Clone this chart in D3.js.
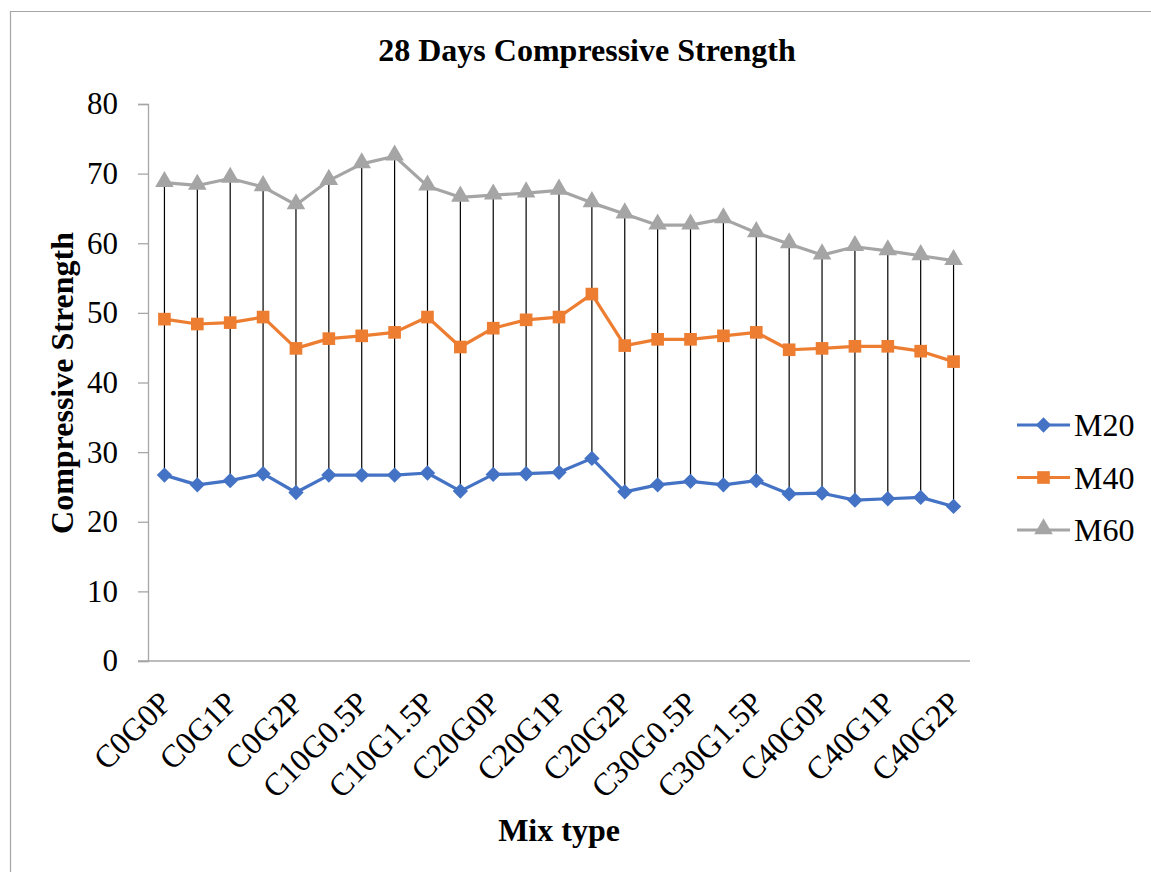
<!DOCTYPE html>
<html>
<head>
<meta charset="utf-8">
<script src="https://cdn.jsdelivr.net/npm/d3@7"></script>
<style>
  html, body { margin: 0; padding: 0; background: #fff; }
  svg { display: block; font-family: "Liberation Serif", "Times New Roman", serif; }
</style>
</head>
<body>
<svg id="chart" width="1151" height="872"></svg>
<script>
// Mix designs: cement replacement (C), glass (G) and polymer (P) levels
const categories = [
  "C0G0P", "C0G0.5P", "C0G1P", "C0G1.5P", "C0G2P",
  "C10G0P", "C10G0.5P", "C10G1P", "C10G1.5P", "C10G2P",
  "C20G0P", "C20G0.5P", "C20G1P", "C20G1.5P", "C20G2P",
  "C30G0P", "C30G0.5P", "C30G1P", "C30G1.5P", "C30G2P",
  "C40G0P", "C40G0.5P", "C40G1P", "C40G1.5P", "C40G2P"
];

// 28-day compressive strength per grade
const m20 = [26.7, 25.3, 25.9, 26.9, 24.2, 26.7, 26.7, 26.7, 27.0, 24.4, 26.8, 26.9, 27.1,
             29.1, 24.3, 25.3, 25.8, 25.3, 25.9, 24.0, 24.1, 23.1, 23.3, 23.5, 22.2];
const m40 = [49.1, 48.4, 48.6, 49.4, 44.9, 46.3, 46.7, 47.2, 49.4, 45.1, 47.8, 49.0, 49.4,
             52.7, 45.3, 46.2, 46.2, 46.7, 47.2, 44.7, 44.9, 45.2, 45.2, 44.5, 43.0];
const m60 = [68.7, 68.3, 69.3, 68.1, 65.5, 69.0, 71.4, 72.5, 68.2, 66.6, 66.9, 67.2, 67.6,
             65.8, 64.2, 62.6, 62.6, 63.5, 61.5, 59.9, 58.3, 59.5, 58.9, 58.2, 57.5];

const seriesNames = ["M20", "M40", "M60"];
const seriesColors = ["#4472C4", "#ED7D31", "#A5A5A5"];
const yTicks = [0, 10, 20, 30, 40, 50, 60, 70, 80];

const series = [m20, m40, m60].map((values, i) => ({
  name: seriesNames[i], color: seriesColors[i], values
}));

const svg = d3.select("#chart");
const plot = { left: 148, right: 970, top: 104, bottom: 661 };
const FONT = "Liberation Serif, serif";

// Chart frame
svg.append("path")
  .attr("d", "M10.5,872 V11.5 H1151")
  .attr("fill", "none").attr("stroke", "#A6A6A6").attr("stroke-width", 1.2);

const x = d3.scaleBand().domain(categories).range([plot.left, plot.right]);
const y = d3.scaleLinear().domain([0, 80]).range([plot.bottom, plot.top]);
const cx = c => x(c) + x.bandwidth() / 2;

// Y axis
const yAxis = svg.append("g")
  .attr("transform", `translate(${plot.left},0)`)
  .call(d3.axisLeft(y).tickValues(yTicks).tickSize(10).tickPadding(20));
yAxis.select(".domain").attr("stroke", "#A6A6A6").attr("stroke-width", 1.3);
yAxis.selectAll(".tick line").attr("stroke", "#A6A6A6").attr("stroke-width", 1.3);
yAxis.selectAll(".tick text")
  .attr("fill", "#000").attr("font-size", 31)
  .attr("font-family", FONT);

// X axis (labels on every second category)
const xAxis = svg.append("g")
  .attr("transform", `translate(0,${plot.bottom})`)
  .call(d3.axisBottom(x)
    .tickValues(categories.filter((c, i) => i % 2 === 0))
    .tickSize(0).tickPadding(0));
xAxis.select(".domain").remove();
svg.append("line")
  .attr("x1", plot.left - 10).attr("x2", plot.right)
  .attr("y1", plot.bottom).attr("y2", plot.bottom)
  .attr("stroke", "#A6A6A6").attr("stroke-width", 1.3);
xAxis.selectAll(".tick text")
  .attr("fill", "#000").attr("font-size", 32)
  .attr("font-family", FONT)
  .attr("text-anchor", "end")
  .attr("dy", "0.35em")
  .attr("transform", "translate(1,36) rotate(-45)")
  .attr("x", 0).attr("y", 0);

// High-low lines between the M60 and M20 values
svg.append("g").selectAll("line")
  .data(categories)
  .join("line")
  .attr("x1", cx).attr("x2", cx)
  .attr("y1", (c, i) => y(m60[i])).attr("y2", (c, i) => y(m20[i]))
  .attr("stroke", "#000").attr("stroke-width", 1.2);

const line = d3.line().x((v, i) => cx(categories[i])).y(v => y(v));
const symbols = [
  d3.symbol().type(d3.symbolDiamond2 || d3.symbolDiamond).size(150),
  d3.symbol().type(d3.symbolSquare).size(160),
  d3.symbol().type(d3.symbolTriangle).size(150)
];

series.forEach((s, si) => {
  svg.append("path")
    .datum(s.values)
    .attr("d", line)
    .attr("fill", "none").attr("stroke", s.color)
    .attr("stroke-width", 3.2).attr("stroke-linejoin", "round");
  svg.append("g").selectAll("path")
    .data(s.values)
    .join("path")
    .attr("d", symbols[si])
    .attr("transform", (v, i) => `translate(${cx(categories[i])},${y(v) - (si === 2 ? 1 : 0)})`)
    .attr("fill", s.color);
});

// Legend
const legend = svg.append("g");
series.forEach((s, i) => {
  const ly = 425 + i * 52.5;
  const g = legend.append("g").attr("transform", `translate(1017,${ly})`);
  g.append("line").attr("x1", 0).attr("x2", 53).attr("y1", 0).attr("y2", 0)
    .attr("stroke", s.color).attr("stroke-width", 3.2);
  g.append("path").attr("d", symbols[i]).attr("transform", `translate(26.5,${i === 2 ? -1 : 0})`)
    .attr("fill", s.color);
  g.append("text").attr("x", 57).attr("y", 0).attr("dy", "0.35em")
    .attr("font-size", 32).attr("font-family", FONT).attr("fill", "#000").text(s.name);
});

// Titles
svg.append("text")
  .attr("x", 587).attr("y", 61)
  .attr("text-anchor", "middle").attr("font-weight", "bold").attr("font-size", 32)
  .attr("font-family", FONT)
  .text("28 Days Compressive Strength");

svg.append("text")
  .attr("x", 559).attr("y", 841)
  .attr("text-anchor", "middle").attr("font-weight", "bold").attr("font-size", 32)
  .attr("font-family", FONT)
  .text("Mix type");

svg.append("text")
  .attr("transform", "translate(73,383) rotate(-90)")
  .attr("text-anchor", "middle").attr("font-weight", "bold").attr("font-size", 32)
  .attr("font-family", FONT)
  .text("Compressive Strength");
</script>
</body>
</html>
